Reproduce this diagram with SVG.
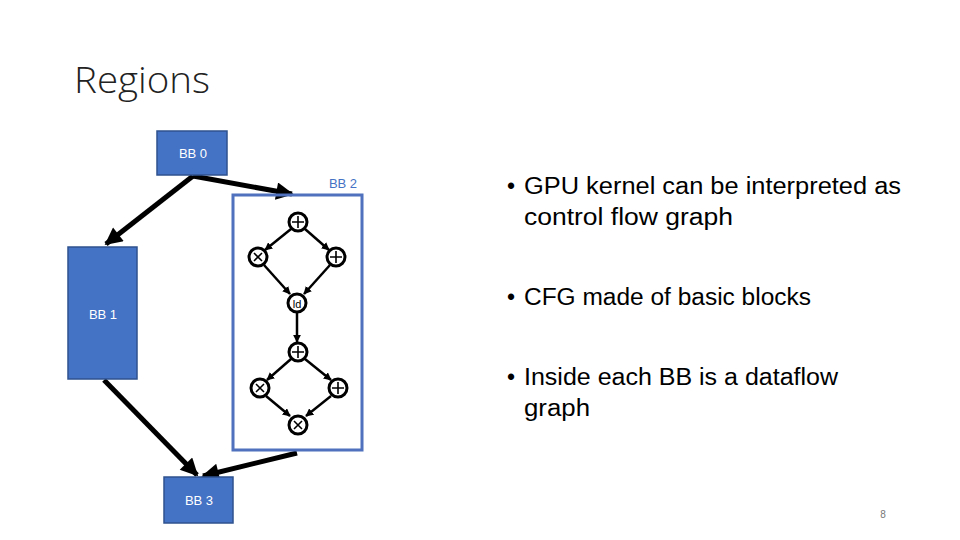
<svg xmlns="http://www.w3.org/2000/svg" width="960" height="540" viewBox="0 0 960 540">
<style>
.bb{fill:#4472C4;stroke:#2F528F;stroke-width:1.5}
.bbl{font-family:"Liberation Sans",Arial,sans-serif;font-size:13px;fill:#fff;text-anchor:middle}
.cf{stroke:#000;stroke-width:5;fill:none}
.df{stroke:#000;stroke-width:2.5;fill:none}
.op{fill:#fff;stroke:#000;stroke-width:3}
.sym{stroke:#000;stroke-width:1.6;fill:none}
.txt{font-family:"Liberation Sans",Arial,sans-serif;font-size:23px;fill:#000}
</style>
<defs>
<marker id="big" viewBox="0 0 10 10" refX="9" refY="5" markerWidth="4" markerHeight="3.5" orient="auto" markerUnits="strokeWidth"><path d="M0,0 L10,5 L0,10 z" fill="#000"/></marker>
<marker id="sm" viewBox="0 0 10 10" refX="9" refY="5" markerWidth="3.2" markerHeight="3.2" orient="auto" markerUnits="strokeWidth"><path d="M0,0 L10,5 L0,10 z" fill="#000"/></marker>
</defs>
<rect width="960" height="540" fill="#fff"/>
<text x="74" y="93" font-family="'Open Sans','Liberation Sans',sans-serif" font-weight="300" font-size="36" fill="#222" textLength="136" lengthAdjust="spacingAndGlyphs">Regions</text>

<g id="connectors">
<line class="cf" x1="193" y1="176" x2="106" y2="244" marker-end="url(#big)"/>
<line class="cf" x1="193" y1="176" x2="292" y2="194" marker-end="url(#big)"/>
<line class="cf" x1="104" y1="380" x2="197" y2="475" marker-end="url(#big)"/>
<line class="cf" x1="297" y1="453" x2="203" y2="476" marker-end="url(#big)"/>
<line class="df" x1="291" y1="229" x2="265" y2="250" marker-end="url(#sm)"/>
<line class="df" x1="305" y1="229" x2="329" y2="250" marker-end="url(#sm)"/>
<line class="df" x1="264" y1="265" x2="290" y2="294" marker-end="url(#sm)"/>
<line class="df" x1="330" y1="265" x2="304" y2="294" marker-end="url(#sm)"/>
<line class="df" x1="297" y1="313" x2="297" y2="342" marker-end="url(#sm)"/>
<line class="df" x1="291" y1="359" x2="267" y2="380" marker-end="url(#sm)"/>
<line class="df" x1="305" y1="359" x2="331" y2="380" marker-end="url(#sm)"/>
<line class="df" x1="266" y1="396" x2="290" y2="416" marker-end="url(#sm)"/>
<line class="df" x1="331" y1="396" x2="306" y2="416" marker-end="url(#sm)"/>
</g>

<g id="bb0"><rect class="bb" x="157" y="131" width="70" height="44"/><text class="bbl" x="193" y="158">BB 0</text></g>
<g id="bb1"><rect class="bb" x="68" y="247" width="69" height="132"/><text class="bbl" x="103" y="319">BB 1</text></g>
<g id="bb3"><rect class="bb" x="164" y="477" width="69" height="46"/><text class="bbl" x="199" y="505">BB 3</text></g>
<g id="bb2"><rect x="233" y="195" width="129" height="255" fill="none" stroke="#4F71BE" stroke-width="3"/><text x="343" y="188" font-family="'Liberation Sans',Arial,sans-serif" font-size="13" fill="#4472C4" text-anchor="middle">BB 2</text></g>

<g id="n1"><circle class="op" cx="298" cy="222" r="9"/><path class="sym" d="M292,222h12M298,216v12"/></g>
<g id="n2"><circle class="op" cx="258" cy="257" r="9"/><path class="sym" d="M254,253l8,8M262,253l-8,8"/></g>
<g id="n3"><circle class="op" cx="336" cy="257" r="9"/><path class="sym" d="M330,257h12M336,251v12"/></g>
<g id="n4"><circle class="op" cx="297" cy="303" r="9"/><text x="297" y="307.5" font-family="'Liberation Sans',Arial,sans-serif" font-size="11" text-anchor="middle" fill="#000">ld</text></g>
<g id="n5"><circle class="op" cx="298" cy="352" r="9"/><path class="sym" d="M292,352h12M298,346v12"/></g>
<g id="n6"><circle class="op" cx="260" cy="388" r="9"/><path class="sym" d="M256,384l8,8M264,384l-8,8"/></g>
<g id="n7"><circle class="op" cx="338" cy="388" r="9"/><path class="sym" d="M332,388h12M338,382v12"/></g>
<g id="n8"><circle class="op" cx="298" cy="425" r="9"/><path class="sym" d="M294,421l8,8M302,421l-8,8"/></g>

<g id="bullets" class="txt">
<text x="507" y="194">•</text><text x="524" y="194" textLength="377" lengthAdjust="spacingAndGlyphs">GPU kernel can be interpreted as</text>
<text x="524" y="225" textLength="209" lengthAdjust="spacingAndGlyphs">control flow graph</text>
<text x="507" y="305">•</text><text x="524" y="305" textLength="287" lengthAdjust="spacingAndGlyphs">CFG made of basic blocks</text>
<text x="507" y="385">•</text><text x="524" y="385" textLength="314" lengthAdjust="spacingAndGlyphs">Inside each BB is a dataflow</text>
<text x="524" y="416" textLength="66" lengthAdjust="spacingAndGlyphs">graph</text>
</g>
<text x="883" y="518" font-family="'Liberation Sans',Arial,sans-serif" font-size="10" fill="#777" text-anchor="middle">8</text>
</svg>
